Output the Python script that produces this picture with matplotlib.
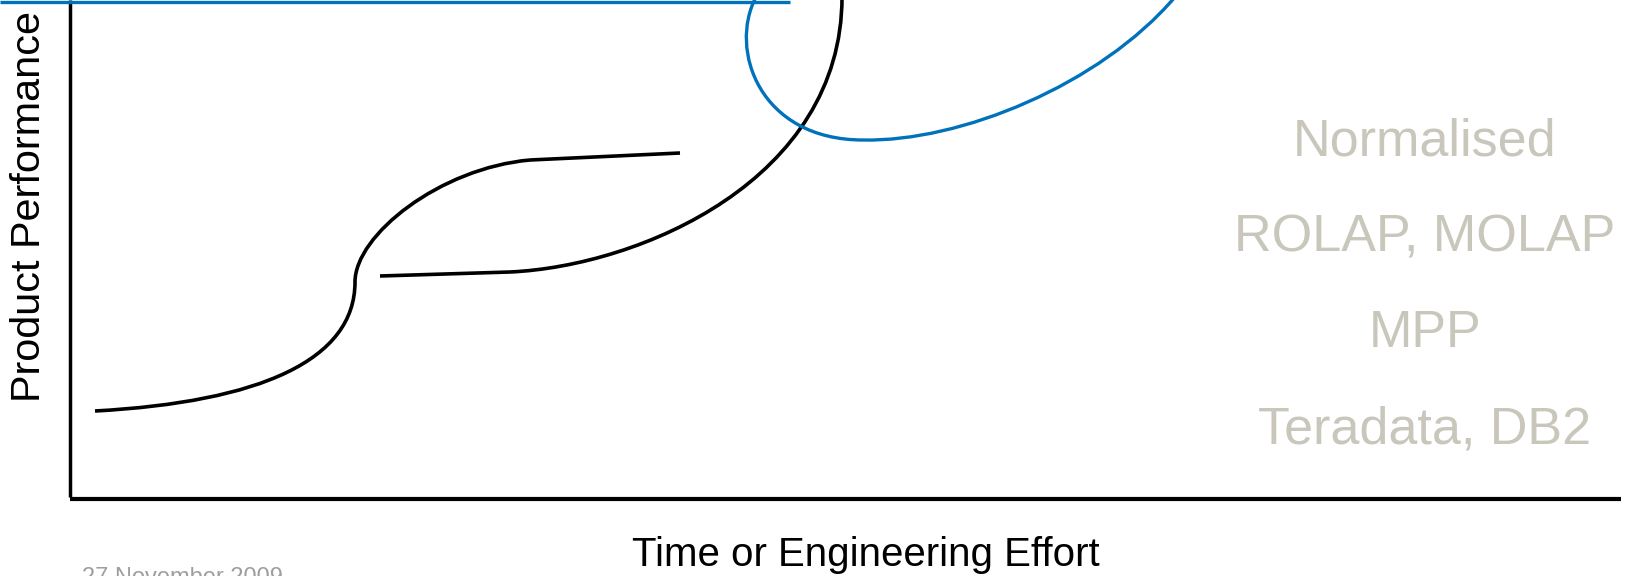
import matplotlib.pyplot as plt
from matplotlib.path import Path
from matplotlib.patches import PathPatch

plt.rcParams['font.family'] = ['Liberation Sans', 'DejaVu Sans']

# canvas in pixel units (y down), schematic slide
W, H = 1630, 576
black = "#000000"
blue = "#0072BC"
grey_txt = "#C9C7BB"

# curve control points (cubic bezier: start, c1, c2, end, c1, c2, end, ...)
curve1_pts = [(95, 411), (260, 402), (355, 360), (355, 282),
              (355, 235), (440, 168), (530, 160)]
curve1_tail = [(530, 160), (680, 153)]
curve2_head = [(380, 276), (510, 272)]
curve2_pts = [(510, 272), (640, 266), (842, 180), (842, -3)]
blue_pts = [(756, -3), (728, 50), (760, 140), (863, 140),
            (960, 142), (1100, 85), (1175, -3)]
blue_top = [(0, 1.5), (790, 1.5)]

y_axis = [(70, 0), (70, 497)]
x_axis = [(70, 499), (1621, 499)]

y_label = "Product Performance"
x_label = "Time or Engineering Effort"
tech_labels = ["Normalised", "ROLAP, MOLAP", "MPP", "Teradata, DB2"]
tech_baselines = [155, 252, 347, 443]
date_text = "27 November 2009"


def bezier(ax, pts, color, lw):
    codes = [Path.MOVETO] + [Path.CURVE4] * (len(pts) - 1)
    ax.add_patch(PathPatch(Path(pts, codes), fill=False, edgecolor=color,
                           lw=lw, capstyle='butt', joinstyle='round'))


def seg(ax, pts, color, lw):
    xs, ys = zip(*pts)
    ax.plot(xs, ys, '-', color=color, lw=lw, solid_capstyle='butt')


fig = plt.figure(figsize=(W / 100, H / 100), dpi=100)
ax = fig.add_axes([0, 0, 1, 1])
ax.set_xlim(0, W)
ax.set_ylim(H, 0)
ax.axis('off')

# axes of the sketch
seg(ax, y_axis, black, 2.5)
seg(ax, x_axis, black, 3.0)

# black s-curves
bezier(ax, curve1_pts, black, 2.6)
seg(ax, curve1_tail, black, 2.6)
seg(ax, curve2_head, black, 2.6)
bezier(ax, curve2_pts, black, 2.6)

# blue curve
seg(ax, blue_top, blue, 2.4)
bezier(ax, blue_pts, blue, 2.4)

ax.text(29, 207, y_label, rotation=90, ha='center', va='center',
        fontsize=29.8, color=black)
ax.text(866, 566, x_label, ha='center', va='baseline', fontsize=29,
        color=black)
for lab, yb in zip(tech_labels, tech_baselines):
    ax.text(1425, yb, lab, ha='center', va='baseline', fontsize=37.5,
            color=grey_txt)
ax.text(82, 584, date_text, ha='left', va='baseline', fontsize=17,
        color="#9E9E9E")

plt.savefig("out.png", dpi=100)
